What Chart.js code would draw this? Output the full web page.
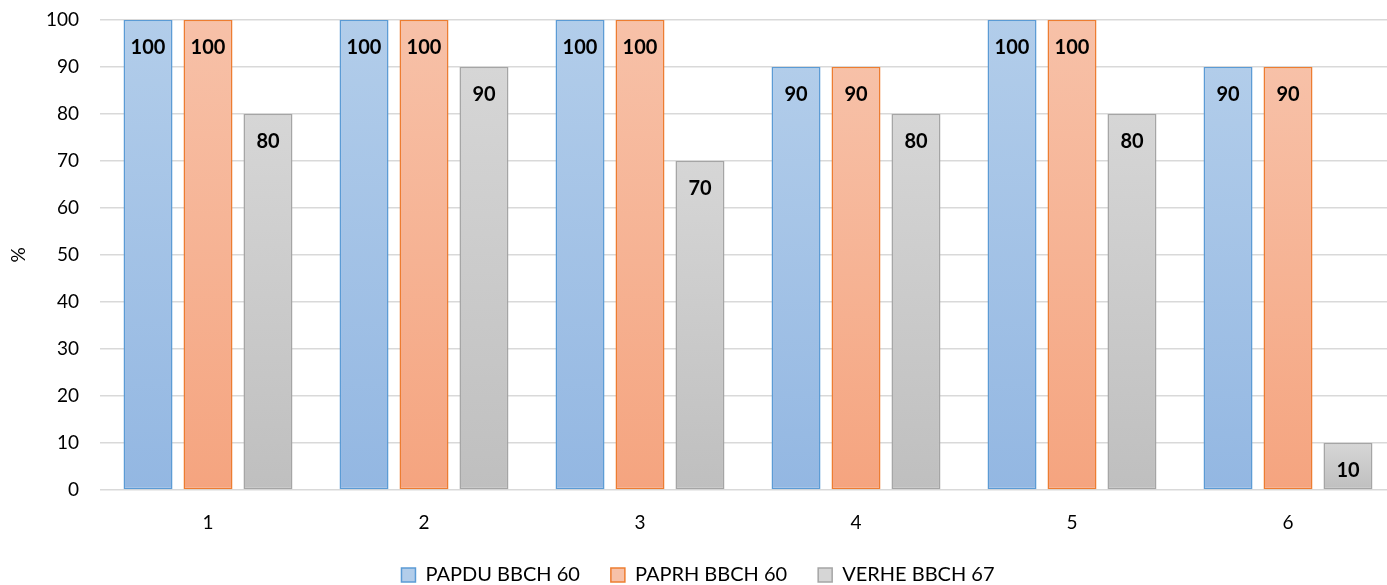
<!DOCTYPE html>
<html>
<head>
<meta charset="utf-8">
<script src="https://cdn.jsdelivr.net/npm/chart.js@4/dist/chart.umd.min.js"></script>
<style>
  html, body { margin: 0; padding: 0; background: #fff; overflow: hidden; }
  #wrap { position: relative; width: 1400px; height: 585px; }
</style>
</head>
<body>
<div id="wrap"><canvas id="c"></canvas></div>
<script>
const categories = ['1', '2', '3', '4', '5', '6'];
const papdu = [100, 100, 100, 90, 100, 90];
const paprh = [100, 100, 100, 90, 100, 90];
const verhe = [80, 90, 70, 80, 80, 10];
const seriesNames = ['PAPDU BBCH 60', 'PAPRH BBCH 60', 'VERHE BBCH 67'];
const yTicks = [0, 10, 20, 30, 40, 50, 60, 70, 80, 90, 100];

const FONT = 'Lato, "Liberation Sans", sans-serif';

// top / bottom shades of each bar's vertical gradient, plus outline colour
const palette = [
  { top: '#b2cdea', bottom: '#93b7e2', border: '#5b9bd5' },
  { top: '#f7c1a8', bottom: '#f5a47f', border: '#ed7d31' },
  { top: '#d6d6d6', bottom: '#bfbfbf', border: '#a5a5a5' }
];

function barGradient(idx) {
  return function (ctx) {
    const chart = ctx.chart;
    const y = chart.scales && chart.scales.y;
    if (!chart.chartArea || !y || ctx.raw == null) return palette[idx].bottom;
    const yTop = y.getPixelForValue(ctx.raw);
    const yBase = y.getPixelForValue(0);
    const g = chart.ctx.createLinearGradient(0, yTop, 0, yBase);
    g.addColorStop(0, palette[idx].top);
    g.addColorStop(1, palette[idx].bottom);
    return g;
  };
}

// value labels drawn just inside the top of each bar
const valueLabels = {
  id: 'valueLabels',
  afterDatasetsDraw(chart) {
    const c = chart.ctx;
    c.save();
    c.font = 'bold 20px ' + FONT;
    c.fillStyle = '#000';
    c.textAlign = 'center';
    c.textBaseline = 'middle';
    chart.data.datasets.forEach((ds, di) => {
      chart.getDatasetMeta(di).data.forEach((bar, i) => {
        c.fillText(String(ds.data[i]), bar.x, bar.y + 28);
      });
    });
    c.restore();
  }
};

// wide spacing between legend entries, but a compact legend box
// whose top reaches up into the free space under the x labels
const legendFit = {
  id: 'legendFit',
  afterInit(chart) {
    const lg = chart.legend;
    if (!lg) return;
    const fit = lg.fit;
    lg.fit = function () {
      fit.call(this);
      this.height = 45;
    };
  },
  afterLayout(chart) {
    const lg = chart.legend;
    if (!lg) return;
    lg.top = lg.bottom - 51;
  }
};

const series = [papdu, paprh, verhe];
new Chart(document.getElementById('c'), {
  type: 'bar',
  data: {
    labels: categories,
    datasets: series.map((vals, i) => ({
      label: seriesNames[i],
      data: vals,
      backgroundColor: barGradient(i),
      borderColor: palette[i].border,
      borderWidth: 1.5,
      borderSkipped: false,
      categoryPercentage: 0.833,
      barPercentage: 0.817
    }))
  },
  options: {
    responsive: true,
    maintainAspectRatio: false,
    animation: false,
    layout: { padding: { top: 0, right: 4, left: 0, bottom: 0 } },
    plugins: {
      tooltip: { enabled: false },
      legend: {
        position: 'bottom',
        labels: {
          font: { family: FONT, size: 20 },
          color: '#000',
          boxWidth: 14,
          boxHeight: 14,
          padding: 31,
          generateLabels(chart) {
            return chart.data.datasets.map((ds, i) => ({
              text: ds.label,
              fillStyle: palette[i].top,
              strokeStyle: palette[i].border,
              lineWidth: 1.5,
              datasetIndex: i,
              fontColor: '#000'
            }));
          }
        }
      }
    },
    scales: {
      x: {
        grid: { display: false, drawTicks: false, tickLength: 0 },
        border: { display: false },
        ticks: { font: { family: FONT, size: 19 }, color: '#000', padding: 21 },
        afterFit(scale) { scale.height = 50; }
      },
      y: {
        min: 0,
        max: 100,
        afterBuildTicks(scale) { scale.ticks = yTicks.map(v => ({ value: v })); },
        grid: { color: '#d9d9d9', lineWidth: 1.5, drawTicks: false },
        border: { display: false },
        ticks: { font: { family: FONT, size: 19 }, color: '#000', padding: 21 },
        title: { display: true, text: '%', font: { family: FONT, size: 19 }, color: '#000', padding: { top: 7, bottom: 0 } },
        afterFit(scale) {
          scale.width = 100;
          scale.paddingTop = 20;
          scale.paddingBottom = 0;
        }
      }
    }
  },
  plugins: [valueLabels, legendFit]
});
</script>
</body>
</html>
